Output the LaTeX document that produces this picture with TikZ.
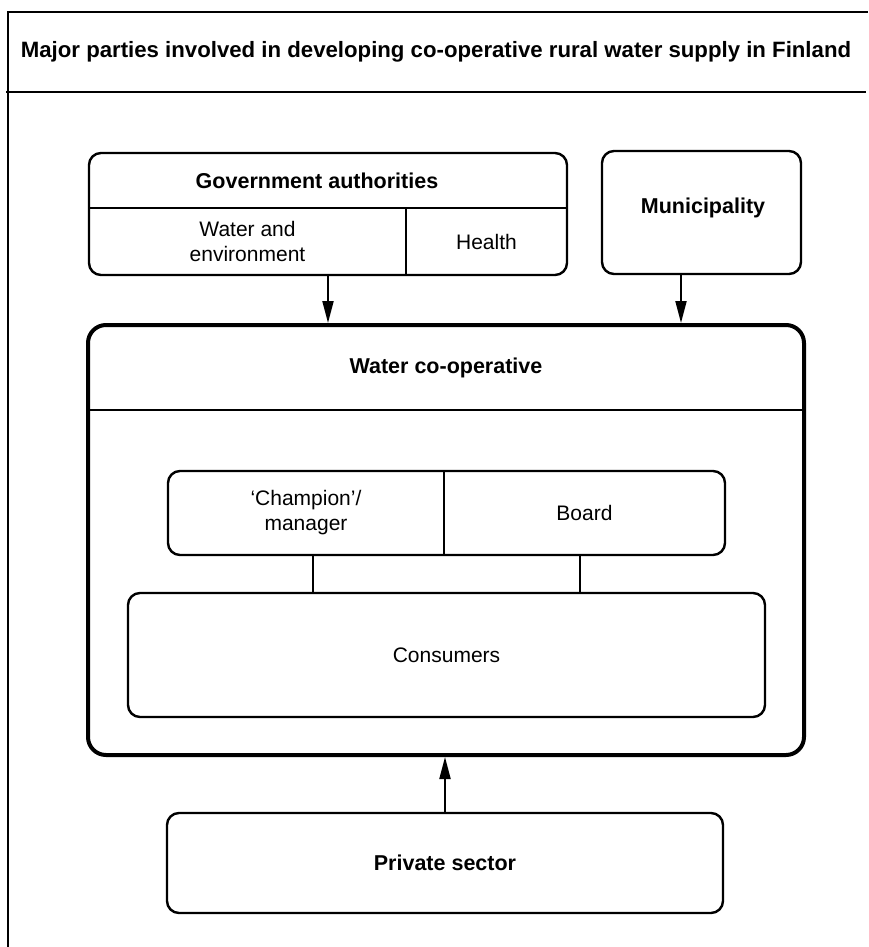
\documentclass[tikz,border=0pt]{standalone}
\usepackage{fontspec}
\setmainfont{Liberation Sans}
\usetikzlibrary{arrows.meta, positioning}
\tikzset{%
	party/.style={
		draw,
		rounded corners=12pt,
		line width=2.4pt,
		inner sep=0pt,
		align=center
	},
	cell/.style={
		inner sep=0pt,
		outer sep=0pt,
		align=center
	},
	plain text/.style={font=\fontsize{21}{25}\selectfont},
	bold text/.style={font=\fontsize{21.5}{25}\selectfont\bfseries},
	flow/.style={
		line width=2pt,
		-{Triangle[length=22pt, width=11pt]}
	},
	divider/.style={line width=2pt},
}

\begin{document}
\begin{tikzpicture}[x=1pt, y=-1pt]
	\useasboundingbox (0,0) rectangle (868,947);
	% frame with title band
	\coordinate (frametop) at (8,12);
	\coordinate (framebottom) at (8,947);
	\draw[line width=2.5pt] (framebottom) -- (frametop) -- (frametop -| 868,0);
	\node[cell, minimum width=860pt, minimum height=80pt, font=\fontsize{22.2}{26}\selectfont\bfseries]
		(title) at (436,52) {Major parties involved in developing co-operative rural water supply in Finland};
	\draw[line width=2.5pt] (title.south west) -- (title.south east);
	
	% government authorities
	\node[party, minimum width=478pt, minimum height=122pt] (gov) at (328,214) {};
	\node[cell, bold text] (govname) at (317,181) {Government authorities};
	\node[cell, plain text, minimum width=317pt, minimum height=67pt] (water) at (247.5,241.5) {Water and\\environment};
	\node[cell, plain text, minimum width=161pt, minimum height=67pt] (health) at (486.5,241.5) {Health};
	\draw[divider] (water.north west) -- (health.north east);
	\draw[divider] (water.north east) -- (water.south east);
	
	% municipality
	\node[party, minimum width=199pt, minimum height=123pt] (mun) at (701.5,212.5) {};
	\node[cell, bold text] (munname) at (703,208) {Municipality};
	
	% water co-operative
	\node[party, line width=4pt, rounded corners=18pt, minimum width=716pt, minimum height=430pt] (coop) at (446,540) {};
	\node[cell, bold text, minimum width=712pt, minimum height=85pt] (coopname) at (446,367.5) {Water co-operative};
	\draw[divider] (coopname.south west) -- (coopname.south east);
	
	\node[party, minimum width=557pt, minimum height=84pt] (lead) at (446.5,513) {};
	\node[cell, plain text, minimum width=276pt, minimum height=84pt] (champion) at (306,513) {`Champion'/\\manager};
	\node[cell, plain text, minimum width=281pt, minimum height=84pt] (board) at (584.5,513) {Board};
	\draw[divider] (champion.north east) -- (champion.south east);
	
	\node[party, plain text, minimum width=637pt, minimum height=124pt] (consumers) at (446.5,655) {Consumers};
	\coordinate (linkA) at (313,0);
	\coordinate (linkB) at (580,0);
	\draw[divider] (lead.south -| linkA) -- (consumers.north -| linkA);
	\draw[divider] (lead.south -| linkB) -- (consumers.north -| linkB);
	
	% private sector
	\node[party, bold text, minimum width=556pt, minimum height=100pt] (private) at (445,863) {Private sector};
	
	% arrows
	\coordinate (munarrow) at (681,0);
	\draw[flow] (gov.south) -- (gov.south |- coop.north);
	\draw[flow] (mun.south -| munarrow) -- (coop.north -| munarrow);
	\draw[flow] (private.north) -- (private.north |- coop.south);
\end{tikzpicture}
\end{document}
